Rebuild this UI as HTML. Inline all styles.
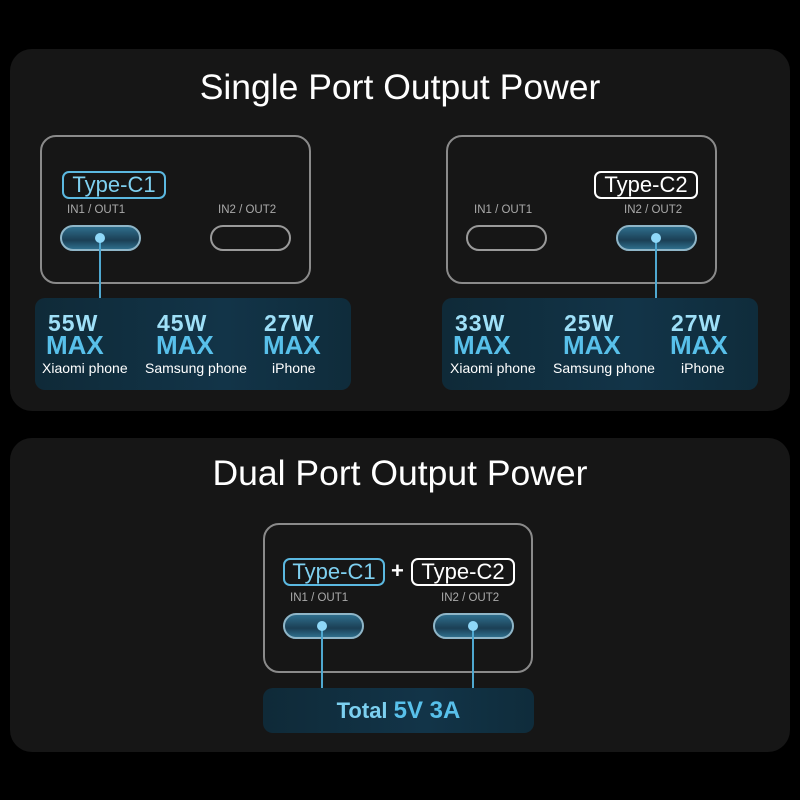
<!DOCTYPE html>
<html><head><style>
*{margin:0;padding:0;box-sizing:border-box}
body{width:800px;height:800px;background:#000;position:relative;overflow:hidden;font-family:"Liberation Sans",sans-serif}
.a{position:absolute}
.panel{background:#161616;border-radius:22px}
.title{color:#fff;font-size:35.5px;text-align:center;width:800px;left:0}
.dev{border:2px solid #8a8a8a;border-radius:16px}
.lab{border:2px solid #5bb8e0;border-radius:7px;color:#7fd0f0;font-size:22px;text-align:center;line-height:23px}
.labw{border:2px solid #fff;border-radius:7px;color:#fff;font-size:22px;text-align:center;line-height:23px}
.io{color:#aaa;font-size:11.5px}
.port{border:2px solid #9a9a9a;border-radius:13px;width:81px;height:26px}
.pb{background:linear-gradient(#2f6e8c,#1b3f55 60%,#2f6e8c);border-color:#8fb6c8}
.dot{width:10px;height:10px;border-radius:5px;background:#8fd8f8}
.ln{width:2px;background:#4fa8d0}
.info{background:linear-gradient(90deg,#0f2a38,#123448 60%,#0f2c3b);border-radius:10px}
.w{color:#9fe0f8;font-weight:bold;font-size:23px;line-height:22px;letter-spacing:1px}
.m{color:#58c0ea;font-weight:bold;font-size:26px;line-height:22px;letter-spacing:0px}
.p{color:#fff;font-size:14px}
</style></head><body>
<div class="a panel" style="left:10px;top:49px;width:780px;height:362px"></div>
<div class="a panel" style="left:10px;top:438px;width:780px;height:314px"></div>
<div class="a title" style="top:67px">Single Port Output Power</div>
<div class="a title" style="top:453px">Dual Port Output Power</div>

<!-- left device -->
<div class="a dev" style="left:40px;top:135px;width:271px;height:149px"></div>
<div class="a lab" style="left:62px;top:171px;width:104px;height:28px">Type-C1</div>
<div class="a io" style="left:67px;top:204px">IN1 / OUT1</div>
<div class="a io" style="left:218px;top:204px">IN2 / OUT2</div>
<div class="a port pb" style="left:60px;top:225px"></div>
<div class="a port" style="left:210px;top:225px"></div>
<div class="a ln" style="left:99px;top:238px;height:62px"></div>
<div class="a dot" style="left:95px;top:233px"></div>
<div class="a info" style="left:35px;top:298px;width:316px;height:92px"></div>
<div class="a w" style="left:48px;top:312px">55W</div><div class="a m" style="left:46px;top:334px">MAX</div><div class="a p" style="left:42px;top:360px">Xiaomi phone</div>
<div class="a w" style="left:157px;top:312px">45W</div><div class="a m" style="left:156px;top:334px">MAX</div><div class="a p" style="left:145px;top:360px">Samsung phone</div>
<div class="a w" style="left:264px;top:312px">27W</div><div class="a m" style="left:263px;top:334px">MAX</div><div class="a p" style="left:272px;top:360px">iPhone</div>

<!-- right device -->
<div class="a dev" style="left:446px;top:135px;width:271px;height:149px"></div>
<div class="a labw" style="left:594px;top:171px;width:104px;height:28px">Type-C2</div>
<div class="a io" style="left:474px;top:204px">IN1 / OUT1</div>
<div class="a io" style="left:624px;top:204px">IN2 / OUT2</div>
<div class="a port" style="left:466px;top:225px"></div>
<div class="a port pb" style="left:616px;top:225px"></div>
<div class="a ln" style="left:655px;top:238px;height:62px"></div>
<div class="a dot" style="left:651px;top:233px"></div>
<div class="a info" style="left:442px;top:298px;width:316px;height:92px"></div>
<div class="a w" style="left:455px;top:312px">33W</div><div class="a m" style="left:453px;top:334px">MAX</div><div class="a p" style="left:450px;top:360px">Xiaomi phone</div>
<div class="a w" style="left:564px;top:312px">25W</div><div class="a m" style="left:563px;top:334px">MAX</div><div class="a p" style="left:553px;top:360px">Samsung phone</div>
<div class="a w" style="left:671px;top:312px">27W</div><div class="a m" style="left:670px;top:334px">MAX</div><div class="a p" style="left:681px;top:360px">iPhone</div>

<!-- dual -->
<div class="a dev" style="left:263px;top:523px;width:270px;height:150px"></div>
<div class="a lab" style="left:283px;top:558px;width:102px;height:28px">Type-C1</div>
<div class="a" style="left:391px;top:558px;color:#fff;font-size:22px;font-weight:bold">+</div>
<div class="a labw" style="left:411px;top:558px;width:104px;height:28px">Type-C2</div>
<div class="a io" style="left:290px;top:592px">IN1 / OUT1</div>
<div class="a io" style="left:441px;top:592px">IN2 / OUT2</div>
<div class="a port pb" style="left:283px;top:613px"></div>
<div class="a port pb" style="left:433px;top:613px"></div>
<div class="a ln" style="left:321px;top:626px;height:64px"></div>
<div class="a ln" style="left:472px;top:626px;height:64px"></div>
<div class="a dot" style="left:317px;top:621px"></div>
<div class="a dot" style="left:468px;top:621px"></div>
<div class="a info" style="left:263px;top:688px;width:271px;height:45px"></div>
<div class="a" style="left:263px;top:697px;width:271px;text-align:center;font-size:22px;font-weight:bold;color:#7cd0f0">Total <span style="color:#58c0ea;font-size:24px">5V 3A</span></div>
</body></html>
